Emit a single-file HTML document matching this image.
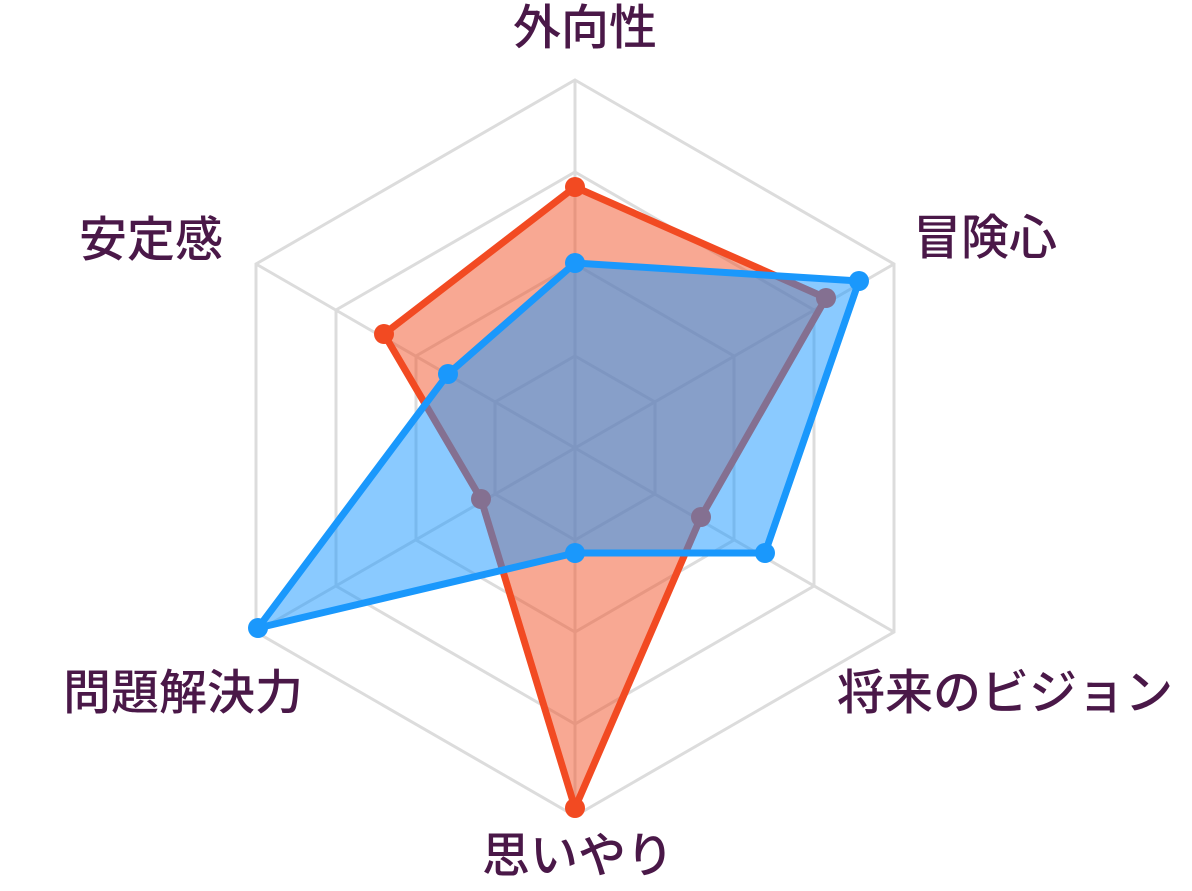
<!DOCTYPE html>
<html><head><meta charset="utf-8"><style>
html,body{margin:0;padding:0;background:#fff;}
svg{display:block;}
text{font-family:"Liberation Sans","Noto Sans CJK JP",sans-serif;font-size:48px;font-weight:500;fill:#4a1848;}
</style></head><body>
<svg width="1192" height="891" viewBox="0 0 1192 891">
<g fill="none" stroke="#dcdcdc" stroke-width="3">
<polygon points="575,80 894,264 894,632 575,816 256,632 256,264"/>
<polygon points="575,172 814,310 814,586 575,724 336,586 336,310"/>
<polygon points="575,264 734,356 734,540 575,632 416,540 416,356"/>
<polygon points="575,356 655,402 655,494 575,540 495,494 495,402"/>
<line x1="575" y1="80" x2="575" y2="816"/>
<line x1="894" y1="264" x2="256" y2="632"/>
<line x1="894" y1="632" x2="256" y2="264"/>
</g>
<g>
<polygon points="575,187 826,298 701,517 575,808 481,499 384,334" fill="rgba(242,82,40,0.5)" stroke="#f24a22" stroke-width="7" stroke-linejoin="round"/>
<g fill="#f24a22">
<circle cx="575" cy="187" r="10"/><circle cx="826" cy="298" r="10"/><circle cx="701" cy="517" r="10"/><circle cx="575" cy="808" r="10"/><circle cx="481" cy="499" r="10"/><circle cx="384" cy="334" r="10"/>
</g>
</g>
<g>
<polygon points="575,263 859,281 765,553 575,553 258,628 448,374" fill="rgba(22,150,255,0.5)" stroke="#1a98fc" stroke-width="7" stroke-linejoin="round"/>
<g fill="#1a98fc">
<circle cx="575" cy="263" r="10"/><circle cx="859" cy="281" r="10"/><circle cx="765" cy="553" r="10"/><circle cx="575" cy="553" r="10"/><circle cx="258" cy="628" r="10"/><circle cx="448" cy="374" r="10"/>
</g>
</g>
<text x="585" y="44" text-anchor="middle">外向性</text>
<text x="985" y="254" text-anchor="middle">冒険心</text>
<text x="1005" y="709" text-anchor="middle">将来のビジョン</text>
<text x="578" y="872" text-anchor="middle">思いやり</text>
<text x="183" y="709" text-anchor="middle">問題解決力</text>
<text x="151" y="256" text-anchor="middle">安定感</text>
</svg>
</body></html>
